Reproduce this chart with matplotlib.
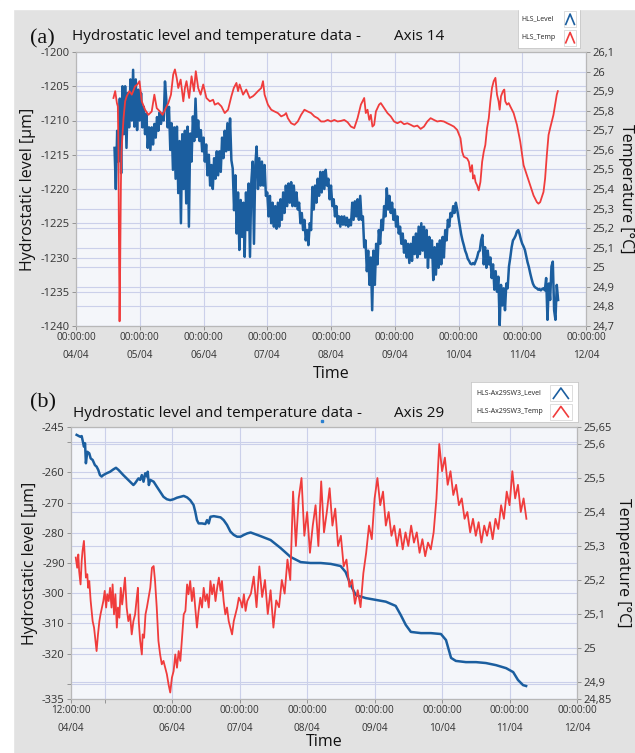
import matplotlib
matplotlib.use("Agg")
import matplotlib.pyplot as plt
import numpy as np
from matplotlib.patches import Rectangle
from matplotlib.lines import Line2D

# ---------------- DATA ----------------
# Panel (a) hydrostatic level, sampled every half hour from 04/04 14:30
a_level_start_h = 14.5
a_level_step_h = 0.5
a_level_v = [
    -1214, -1220, -1211.5, -1216, -1206.8, -1217.7, -1205,
    -1212, -1205, -1214, -1206, -1211, -1204, -1210, -1202.6, -1210.9, -1204, -1211.4, -1205.5,
    -1210, -1206, -1211, -1208, -1212, -1209, -1214, -1211, -1214.3, -1211, -1213.5, -1210.5,
    -1212.5, -1209.5, -1211.5, -1208.8, -1210.5, -1209, -1210, -1204.3, -1207, -1211, -1208, -1214.3,
    -1210.4, -1217.2, -1211, -1218.5, -1210.9, -1220.6, -1213, -1225, -1212, -1220, -1211.5, -1222.1,
    -1210.9, -1225.5, -1211.9, -1216, -1209.4, -1213, -1206.8, -1212.4, -1210, -1213, -1211.4, -1214.5,
    -1212.5, -1216, -1213.5, -1218, -1215, -1219.5, -1216.5, -1220, -1215.5, -1218.5, -1214.5, -1218,
    -1214.5, -1217.5, -1212.5, -1215.5, -1211.5, -1214.5, -1210.4, -1214.3, -1209.7, -1215.8, -1217, -1223.1,
    -1218, -1226.5, -1220.5, -1228.9, -1221.6, -1227, -1222, -1229.9, -1220.5, -1226, -1219.2, -1229.9,
    -1219, -1216, -1228, -1216.5, -1213.8, -1220, -1215.5, -1219.5, -1216, -1219.5, -1216.5, -1221,
    -1220.5, -1224, -1221, -1225, -1222, -1225.5, -1222.5, -1225.8, -1222, -1225.5, -1221.5, -1224.5,
    -1220.5, -1223.5, -1219.5, -1222.5, -1219.2, -1222, -1219, -1222.5, -1219.5, -1222.5, -1220.5, -1223,
    -1222, -1225, -1223.5, -1226, -1224.5, -1227.5, -1226, -1228.2, -1225, -1226, -1219.7, -1223,
    -1219.5, -1222, -1218.5, -1221, -1217.5, -1220.5, -1217.5, -1220, -1217.2, -1219.5, -1218.5, -1221.5,
    -1219.5, -1222.5, -1221.5, -1224, -1222.5, -1225, -1224, -1225.5, -1224, -1225.2, -1224, -1225.3,
    -1224.2, -1225.5, -1224.5, -1225.3, -1222, -1224.5, -1221.8, -1224, -1221.5, -1224.5, -1221, -1224.5,
    -1224, -1228.5, -1227.5, -1232, -1229, -1234, -1230, -1237.7, -1229, -1234, -1228, -1231,
    -1226, -1228, -1224.5, -1226, -1222.5, -1224, -1219.9, -1223, -1221, -1223.5, -1222, -1224.5,
    -1223, -1225.5, -1224, -1226.5, -1225.5, -1228, -1226.5, -1229.3, -1227.5, -1230, -1228, -1230.8,
    -1228, -1230.5, -1227, -1229.5, -1226.5, -1230, -1225.5, -1229.5, -1225, -1229, -1225.5, -1230,
    -1226, -1231.5, -1227, -1230, -1227.5, -1233.3, -1228.5, -1232.5, -1228, -1231.5, -1227.5, -1231,
    -1227, -1230, -1226, -1227.5, -1224.5, -1225.5, -1223.5, -1224, -1222.5, -1223.5, -1222, -1223,
    -1224.2, -1225.5, -1226.6, -1227.5, -1228.2, -1229, -1229.5, -1230.2, -1230.5, -1230.9, -1231, -1230.8,
    -1231, -1230.5, -1230, -1229.2, -1229, -1227.5, -1226.7, -1231, -1228.5, -1231.5, -1229, -1231,
    -1230, -1233, -1231, -1234.7, -1232, -1235, -1232.8, -1239.9, -1234, -1237, -1234.5, -1237.7,
    -1233.8, -1234.5, -1231.3, -1230, -1228.5, -1227.5, -1227.2, -1226.8, -1226.2, -1226, -1226.6, -1227.4,
    -1228, -1228.4, -1228.9, -1229.8, -1230.7, -1231.4, -1232.3, -1233.1, -1233.8, -1234.2, -1234.4, -1234.5,
    -1234.7, -1234.6, -1234.8, -1234.6, -1234.5, -1234.8, -1233, -1239.1, -1233.8, -1236.2, -1231.3, -1230.6,
    -1237.7, -1239.1, -1234, -1236.2,
]

# Panel (a) temperature: hours since 04/04 00:00 and values
a_temp_h = [14.1,14.75,15.4,15.75,16.0,16.1,16.4,16.6,16.9,17.1,17.5,17.9,18.5,19.1,20.1,21.0,22.25,23.1,23.9,24.75,26.0,27.25,28.5,29.5,30.4,31.6,32.6,33.5,34.75,35.75,36.6,37.25,37.9,38.5,39.4,40.4,41.0,41.6,42.6,43.5,44.4,45.1,46.0,46.9,47.9,49.1,50.4,51.6,52.25,53.5,54.75,56.0,57.25,58.5,59.4,60.4,61.0,61.6,62.9,64.1,65.4,66.6,67.25,68.5,69.75,70.4,71.0,72.25,73.5,74.75,76.0,77.25,78.5,79.1,79.75,81.0,82.25,83.5,84.75,86.0,87.25,88.5,89.75,91.0,92.25,93.5,94.75,96.0,97.25,98.5,99.75,101.0,102.25,103.5,104.75,106.0,107.25,108.5,109.1,109.75,110.4,111.0,111.6,112.25,112.9,114.1,114.75,116.0,117.25,118.5,119.75,121.0,122.25,123.5,124.75,126.0,127.25,128.5,129.75,131.0,132.25,133.5,134.75,136.0,137.25,138.5,139.75,141.0,142.25,143.5,144.75,145.4,146.0,147.25,147.9,148.5,149.1,149.5,150.0,150.4,151.0,151.6,152.25,152.9,153.5,154.1,154.75,155.4,156.0,156.6,157.25,157.9,158.5,159.1,159.5,160.0,160.75,161.25,161.6,162.25,162.9,163.5,164.75,166.0,167.25,168.5,169.75,171.0,172.25,173.5,174.1,174.75,176.0,176.6,177.25,177.9,178.5,179.75,180.4,181.0,181.4]
a_temp_v = [25.865,25.90,25.839,25.822,25.59,25.282,24.724,24.973,25.419,25.59,25.676,25.762,25.848,25.874,25.90,25.882,25.925,25.934,25.951,25.848,25.805,25.779,25.796,25.882,25.813,25.796,25.779,25.805,25.839,25.882,25.985,26.011,25.968,25.916,25.959,25.848,25.916,25.951,25.865,25.976,25.90,26.002,25.916,25.882,25.934,25.865,25.848,25.856,25.831,25.839,25.822,25.788,25.805,25.874,25.916,25.942,25.90,25.934,25.882,25.908,25.865,25.874,25.882,25.90,25.916,25.951,25.882,25.831,25.805,25.796,25.788,25.771,25.779,25.788,25.762,25.736,25.728,25.745,25.779,25.805,25.796,25.788,25.771,25.762,25.745,25.745,25.753,25.745,25.753,25.745,25.748,25.753,25.741,25.719,25.711,25.762,25.831,25.865,25.788,25.805,25.753,25.779,25.719,25.728,25.796,25.831,25.839,25.813,25.788,25.771,25.745,25.736,25.745,25.731,25.736,25.728,25.719,25.724,25.707,25.719,25.745,25.762,25.753,25.745,25.748,25.745,25.736,25.728,25.719,25.702,25.659,25.59,25.565,25.556,25.539,25.488,25.522,25.453,25.470,25.436,25.419,25.393,25.436,25.539,25.59,25.625,25.711,25.762,25.848,25.916,25.951,25.968,25.882,25.848,25.805,25.874,25.90,25.908,25.848,25.831,25.839,25.822,25.788,25.728,25.642,25.522,25.470,25.419,25.367,25.333,25.325,25.333,25.385,25.453,25.573,25.676,25.711,25.779,25.831,25.882,25.90]

# Panel (b) hydrostatic level
b_level_h = [14.0,15.2,15.8,16.1,16.6,17.0,17.3,17.8,18.5,19.0,19.7,20.5,21.1,21.7,22.3,22.9,23.5,24.7,25.9,27.1,28.0,28.9,29.5,30.6,31.8,33.0,34.2,34.8,36.0,36.6,37.2,37.8,38.4,39.0,39.3,39.7,40.2,41.4,42.5,43.7,44.9,46.1,47.3,48.5,49.7,50.9,52.1,53.3,54.4,55.6,56.2,56.8,57.4,58.6,59.8,60.4,61.0,61.6,62.8,64.0,65.2,66.3,67.5,68.7,69.9,71.1,72.3,73.5,74.7,75.9,79.4,83.0,86.5,90.1,93.7,97.2,100.8,104.4,107.9,109.7,111.5,113.3,116.8,120.4,124.0,127.5,129.3,131.1,132.9,136.5,140.0,143.6,145.4,147.2,148.9,152.5,156.1,159.6,163.2,166.8,169.3,171.0,172.8,173.9]
b_level_v = [-247.6,-248.2,-248.0,-249.3,-251.5,-250.4,-257.0,-253.2,-253.7,-255.4,-255.9,-257.6,-258.1,-259.2,-260.9,-261.4,-260.9,-260.3,-259.8,-259.0,-258.5,-259.2,-259.8,-260.9,-262.0,-263.1,-264.2,-263.6,-262.0,-262.5,-260.9,-263.1,-260.3,-261.4,-259.8,-264.2,-262.5,-263.1,-264.7,-266.4,-268.1,-268.9,-269.2,-268.9,-268.4,-268.1,-267.8,-268.3,-269.2,-270.8,-273.0,-275.8,-276.9,-276.9,-277.1,-275.8,-276.9,-274.7,-274.5,-274.7,-274.9,-275.8,-277.4,-279.6,-280.7,-281.3,-281.3,-280.7,-280.2,-279.9,-281.1,-282.4,-285.0,-288.0,-289.7,-290.0,-290.0,-290.3,-291.0,-293.0,-297.3,-300.6,-301.6,-302.2,-302.8,-304.2,-307.2,-310.5,-312.8,-313.2,-313.2,-313.5,-315.5,-321.4,-322.4,-322.8,-322.8,-323.1,-323.8,-324.8,-326.1,-328.7,-330.4,-330.7]

# Panel (b) temperature, first part (04/04 13:40 .. 07/04 02:40)
b_temp1_h = [13.7,14.2,14.6,14.9,15.4,15.8,16.1,16.6,17.0,17.3,17.8,18.1,18.5,19.0,19.7,20.2,20.6,21.1,21.6,22.1,22.5,23.0,23.5,24.0,24.5,24.9,25.4,25.9,26.4,26.8,27.3,27.8,28.3,28.7,29.2,29.7,30.2,30.6,31.2,31.8,32.4,33.0,33.6,34.2,34.8,35.4,35.8,36.1,36.6,37.2,37.5,38.0,38.5,39.0,39.6,40.2,40.8,41.4,41.9,42.5,43.1,43.7,44.3,44.9,45.5,46.1,46.7,47.3,47.9,48.5,49.1,49.7,50.3,50.9,51.5,52.1,52.7,53.3,53.8,54.4,55.0,55.6,56.2,56.8,57.4,58.0,58.6,59.2,59.8,60.4,61.0,61.6,62.2,62.8,63.4,64.0,64.6,65.2,65.7,66.3,66.9,67.5,68.1,68.7,69.3,69.9,70.5,71.1,71.7,72.3,72.9,73.5,74.1,74.7]
b_temp1_v = [25.266,25.236,25.275,25.226,25.187,25.256,25.285,25.315,25.256,25.207,25.217,25.177,25.197,25.138,25.079,25.06,25.03,24.991,25.04,25.079,25.099,25.119,25.138,25.168,25.119,25.158,25.138,25.177,25.119,25.187,25.099,25.158,25.06,25.119,25.089,25.177,25.128,25.158,25.207,25.119,25.079,25.099,25.04,25.079,25.099,25.148,25.177,25.079,25.021,24.981,25.04,25.03,25.099,25.119,25.148,25.177,25.236,25.241,25.197,25.119,25.021,24.981,24.952,24.962,24.942,24.923,24.893,24.869,24.913,24.932,24.981,24.942,24.991,24.962,25.03,25.099,25.109,25.187,25.158,25.197,25.138,25.177,25.119,25.06,25.109,25.148,25.119,25.177,25.138,25.158,25.119,25.197,25.158,25.187,25.138,25.177,25.207,25.168,25.197,25.138,25.099,25.119,25.079,25.06,25.04,25.079,25.099,25.119,25.148,25.138,25.119,25.158,25.109,25.138]
# Panel (b) temperature, second part, hourly from 07/04 04:00
b_temp2_start_h = 76
b_temp2_v = [25.16,25.21,25.12,25.24,25.15,25.20,25.10,25.17,25.06,25.14,25.12,25.20,25.16,25.26,25.20,
             25.46,25.30,25.44,25.50,25.33,25.40,25.28,25.36,25.42,25.30,25.49,25.34,25.40,25.47,25.36,
             25.41,25.30,25.33,25.24,25.26,25.18,25.20,25.13,25.17,25.12,25.22,25.28,25.36,25.32,25.44,
             25.50,25.42,25.46,25.36,25.40,25.33,25.36,25.30,25.35,25.29,25.34,25.30,25.36,25.31,25.34,
             25.28,25.32,25.27,25.31,25.29,25.34,25.44,25.60,25.52,25.56,25.48,25.52,25.45,25.48,25.42,
             25.44,25.38,25.40,25.34,25.38,25.33,25.37,25.31,25.36,25.33,25.37,25.32,25.38,25.35,25.42,
             25.38,25.46,25.42,25.52,25.44,25.48,25.40,25.44,25.38]

a_xtick_h = [0, 24, 48, 72, 96, 120, 144, 168, 192]
a_xtick_lab = ["00:00:00\n04/04", "00:00:00\n05/04", "00:00:00\n06/04", "00:00:00\n07/04",
               "00:00:00\n08/04", "00:00:00\n09/04", "00:00:00\n10/04", "00:00:00\n11/04",
               "00:00:00\n12/04"]
a_yticks = [-1200, -1205, -1210, -1215, -1220, -1225, -1230, -1235, -1240]
a_y2ticks = [26.1, 26.0, 25.9, 25.8, 25.7, 25.6, 25.5, 25.4, 25.3, 25.2, 25.1, 25.0, 24.9, 24.8, 24.7]
a_y2lab = ["26,1", "26", "25,9", "25,8", "25,7", "25,6", "25,5", "25,4", "25,3", "25,2", "25,1", "25", "24,9", "24,8", "24,7"]

b_xtick_h = [12, 24, 48, 72, 96, 120, 144, 168, 192]
b_xtick_lab = ["12:00:00\n04/04", "", "00:00:00\n06/04", "00:00:00\n07/04", "00:00:00\n08/04",
               "00:00:00\n09/04", "00:00:00\n10/04", "00:00:00\n11/04", "00:00:00\n12/04"]
b_yticks = [-245, -250, -260, -270, -280, -290, -300, -310, -320, -330, -335]
b_ylab = ["-245", "", "-260", "-270", "-280", "-290", "-300", "-310", "-320", "", "-335"]
b_y2ticks = [25.65, 25.6, 25.5, 25.4, 25.3, 25.2, 25.1, 25.0, 24.9, 24.85]
b_y2lab = ["25,65", "25,6", "25,5", "25,4", "25,3", "25,2", "25,1", "25", "24,9", "24,85"]

a_level_h = a_level_start_h + a_level_step_h * np.arange(len(a_level_v))
b_temp_h = list(b_temp1_h) + list(b_temp2_start_h + np.arange(len(b_temp2_v)))
b_temp_v = list(b_temp1_v) + list(b_temp2_v)

# ---------------- STYLE ----------------
W, H = 635, 753
FIG_BG = "#E2E2E2"
PLOT_BG = "#F4F6FA"
GRID = "#CBD0EA"
BLUE = "#1B5E9F"
RED = "#F03C3C"
TXT = "#333333"
SANS = ["Open Sans", "DejaVu Sans"]
SERIF = ["Liberation Serif", "DejaVu Serif"]
plt.rcParams["font.family"] = SANS

fig = plt.figure(figsize=(W / 100, H / 100), dpi=100)
fig.patch.set_facecolor(FIG_BG)
fig.patches.append(Rectangle((0, 1 - 9 / H), 1, 9 / H, transform=fig.transFigure, color="white", zorder=0))
fig.patches.append(Rectangle((0, 0), 13 / W, 1, transform=fig.transFigure, color="white", zorder=0))


def rect(l, t, r, b):
    return [l / W, 1 - b / H, (r - l) / W, (b - t) / H]


def panel(box, xt, xl, xlim, yt, yl, ylim, y2t, y2l, y2lim, lvh, lvv, tph, tpv, xlabpad):
    ax = fig.add_axes(rect(*box))
    ax.set_facecolor(PLOT_BG)
    ax.set_xlim(*xlim)
    ax.set_ylim(*ylim)
    ax.set_xticks(xt)
    ax.set_xticklabels(xl, fontsize=7.2, color=TXT, linespacing=1.9)
    ax.set_yticks(yt)
    ax.set_yticklabels(yl, fontsize=8, color=TXT)
    ax.grid(True, color=GRID, lw=0.8)
    ax.set_axisbelow(True)
    ax2 = ax.twinx()
    ax2.set_ylim(*y2lim)
    ax2.set_yticks(y2t)
    ax2.set_yticklabels(y2l, fontsize=8, color=TXT)
    ax2.grid(True, axis="y", color=GRID, lw=0.8, zorder=0.5)
    ax2.set_axisbelow(True)
    for a in (ax, ax2):
        a.tick_params(direction="out", length=3, width=0.6, color="#888888", pad=1.5)
        for s in a.spines.values():
            s.set_color("#B8B8B8")
            s.set_linewidth(0.8)
    ax2.add_line(Line2D(lvh, lvv, color=BLUE, lw=1.8, transform=ax.transData, zorder=2))
    ax2.plot(tph, tpv, color=RED, lw=1.3, zorder=3)
    ax2.set_ylim(*y2lim)
    ax.set_xlim(*xlim)
    ax.set_ylabel("Hydrostatic level [µm]", fontsize=11.5, color="#111111", labelpad=3)
    ax2.set_ylabel("Temperature [°C]", fontsize=11.5, color="#111111", rotation=270, labelpad=14)
    ax.set_xlabel("Time", fontsize=11.5, color="#111111", labelpad=xlabpad)
    return ax, ax2


def legend(box, names):
    lg = fig.add_axes(rect(*box))
    lg.set_xlim(0, 1)
    lg.set_ylim(0, 1)
    lg.set_xticks([])
    lg.set_yticks([])
    lg.set_facecolor("white")
    for s in lg.spines.values():
        s.set_color("#C8C8C8")
        s.set_linewidth(0.6)
    for i, (name, col) in enumerate(zip(names, [BLUE, RED])):
        yc = 0.72 - i * 0.46
        lg.text(0.05, yc, name, fontsize=5, color="#222222", va="center", ha="left")
        lg.add_patch(Rectangle((0.74, yc - 0.2), 0.2, 0.4, facecolor="white", edgecolor="#D0D0D0", lw=0.5))
        lg.plot([0.77, 0.84, 0.91], [yc - 0.13, yc + 0.13, yc - 0.13], color=col, lw=1.2)


# ---------------- PANEL (a) ----------------
panel((76, 52, 586, 326), a_xtick_h, a_xtick_lab, (0, 192), a_yticks, [str(v) for v in a_yticks],
      (-1240, -1200), a_y2ticks, a_y2lab, (24.7, 26.1), a_level_h, a_level_v, a_temp_h, a_temp_v, 3)
fig.text(30 / W, 1 - 39 / H, "(a)", family=SERIF, fontsize=16, va="center", ha="left", color="#111111")
fig.text(72 / W, 1 - 37 / H, "Hydrostatic level and temperature data -", fontsize=11, va="center", ha="left", color="#111111")
fig.text(394 / W, 1 - 37 / H, "Axis 14", fontsize=11, va="center", ha="left", color="#111111")
legend((518, 8, 580, 48), ["HLS_Level", "HLS_Temp"])

# ---------------- PANEL (b) ----------------
panel((71, 427, 577, 699), b_xtick_h, b_xtick_lab, (12, 192), b_yticks, b_ylab,
      (-335, -245), b_y2ticks, b_y2lab, (24.85, 25.65), b_level_h, b_level_v, b_temp_h, b_temp_v, 0)
fig.text(30 / W, 1 - 403 / H, "(b)", family=SERIF, fontsize=16, va="center", ha="left", color="#111111")
fig.text(73 / W, 1 - 414 / H, "Hydrostatic level and temperature data -", fontsize=11, va="center", ha="left", color="#111111")
fig.text(394 / W, 1 - 414 / H, "Axis 29", fontsize=11, va="center", ha="left", color="#111111")
legend((471, 382, 578, 422), ["HLS-Ax29SW3_Level", "HLS-Ax29SW3_Temp"])
# small blue dot under the title of panel (b)
fig.add_artist(Line2D([322 / W], [1 - 421 / H], marker="s", ms=2, color="#2A7FD0", transform=fig.transFigure))

fig.savefig("out.png", dpi=100, facecolor=fig.get_facecolor())
